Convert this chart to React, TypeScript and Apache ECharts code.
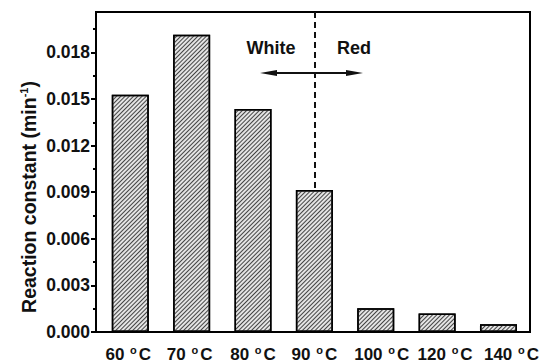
import React, { useEffect, useRef } from 'react';
import * as echarts from 'echarts';

const categories = ['60', '70', '80', '90', '100', '120', '140'];
const rateConstants = [0.01527, 0.01914, 0.01435, 0.00914, 0.00153, 0.00119, 0.0005];
const majorTicks = [0, 0.003, 0.006, 0.009, 0.012, 0.015, 0.018];
const minorTicks = [0.0015, 0.0045, 0.0075, 0.0105, 0.0135, 0.0165, 0.0195];
const yMax = 0.0206;
const dividerCategory = '90';
// horizontal nudge (px) of each tick label, as placed in the original figure
const labelNudge = [-2, -2, 0, 0, 6, 8, 13];

const FONT = "'Liberation Sans', Arial, sans-serif";

export default function App() {
  const ref = useRef<HTMLDivElement>(null);
  useEffect(() => {
    if (!ref.current) return;
    const chart = echarts.init(ref.current, null, { renderer: 'svg' });
    const categoryData = categories.map((c, i) => {
      const n = labelNudge[i];
      return {
        value: c,
        textStyle: { padding: n >= 0 ? [0, 0, 0, 2 * n] : [0, -2 * n, 0, 0] },
      };
    });
    const option: any = {
      animation: false,
      backgroundColor: '#fff',
      grid: [
        { left: 99.6, right: 12.6, top: 12, bottom: 31 },
        { left: 96, right: 12, top: 12, bottom: 31, show: true, borderColor: '#000', borderWidth: 2, backgroundColor: 'transparent', z: 3 },
      ],
      xAxis: [
        {
          type: 'category',
          gridIndex: 0,
          data: categoryData,
          axisLine: { show: false },
          axisTick: { show: false },
          axisLabel: {
            interval: 0,
            hideOverlap: false,
            margin: 12,
            formatter: (v: string) => `{a|${v} }{s|o}{a|C}`,
            rich: {
              a: { fontFamily: FONT, fontWeight: 'bold', fontSize: 17, color: '#111', lineHeight: 20 },
              s: { fontFamily: FONT, fontWeight: 'bold', fontSize: 11, color: '#111', verticalAlign: 'top', lineHeight: 20, padding: [0, 2, 0, 1] },
            },
          },
        },
        { type: 'value', gridIndex: 1, show: false, min: 0, max: 1 },
      ],
      yAxis: [
        { type: 'value', gridIndex: 0, min: 0, max: yMax, show: false },
        {
          type: 'value',
          gridIndex: 1,
          min: 0,
          max: yMax,
          position: 'left',
          axisLine: { show: true, lineStyle: { color: '#000', width: 2 } },
          axisTick: { show: true, length: 5, lineStyle: { color: '#000', width: 2 }, customValues: majorTicks },
          axisLabel: {
            customValues: majorTicks,
            formatter: (v: number) => v.toFixed(3),
            fontFamily: FONT,
            fontWeight: 'bold',
            fontSize: 17.5,
            color: '#111',
            margin: 6,
          },
          splitLine: { show: false },
        },
        {
          type: 'value',
          gridIndex: 1,
          min: 0,
          max: yMax,
          position: 'left',
          axisLine: { show: false },
          axisTick: { show: true, length: 3, lineStyle: { color: '#000', width: 2 }, customValues: minorTicks },
          axisLabel: { show: false },
          splitLine: { show: false },
        },
      ],
      series: [
        {
          type: 'bar',
          xAxisIndex: 0,
          yAxisIndex: 0,
          data: rateConstants,
          barWidth: 37,
          itemStyle: {
            color: '#e4e4e4',
            borderColor: '#000',
            borderWidth: 1.5,
            decal: {
              symbol: 'rect',
              symbolSize: 1,
              color: '#444',
              dashArrayX: [1, 0],
              dashArrayY: [1, 2],
              rotation: -Math.PI / 4,
            },
          },
          markLine: {
            silent: true,
            symbol: ['none', 'none'],
            label: { show: false },
            lineStyle: { color: '#111', type: [6, 4], width: 2 },
            data: [[{ coord: [dividerCategory, yMax] }, { coord: [dividerCategory, rateConstants[3]] }]],
          },
        },
      ],
      graphic: [
        {
          type: 'text',
          x: 29,
          y: 197,
          rotation: Math.PI / 2,
          style: {
            text: '{a|Reaction constant (min}{s|-1}{a|)}',
            align: 'center',
            verticalAlign: 'middle',
            rich: {
              a: { fontFamily: FONT, fontWeight: 'bold', fontSize: 19.5, fill: '#111', lineHeight: 22 },
              s: { fontFamily: FONT, fontWeight: 'bold', fontSize: 11, fill: '#111', verticalAlign: 'top', lineHeight: 22 },
            },
          },
        },
        {
          type: 'text',
          x: 271,
          y: 48,
          style: { text: 'White', align: 'center', verticalAlign: 'middle', fontFamily: FONT, fontWeight: 'bold', fontSize: 18, fill: '#111' },
        },
        {
          type: 'text',
          x: 354,
          y: 48,
          style: { text: 'Red', align: 'center', verticalAlign: 'middle', fontFamily: FONT, fontWeight: 'bold', fontSize: 18, fill: '#111' },
        },
        {
          type: 'line',
          shape: { x1: 268, y1: 73, x2: 354, y2: 73 },
          style: { stroke: '#111', lineWidth: 2 },
        },
        {
          type: 'polygon',
          shape: { points: [[260, 73], [277, 70], [277, 76]] },
          style: { fill: '#111' },
        },
        {
          type: 'polygon',
          shape: { points: [[363, 73], [346, 70], [346, 76]] },
          style: { fill: '#111' },
        },
      ],
    };
    chart.setOption(option);
    return () => chart.dispose();
  }, []);
  return <div ref={ref} style={{ position: 'absolute', left: 0, top: 0, width: 542, height: 363 }} />;
}
